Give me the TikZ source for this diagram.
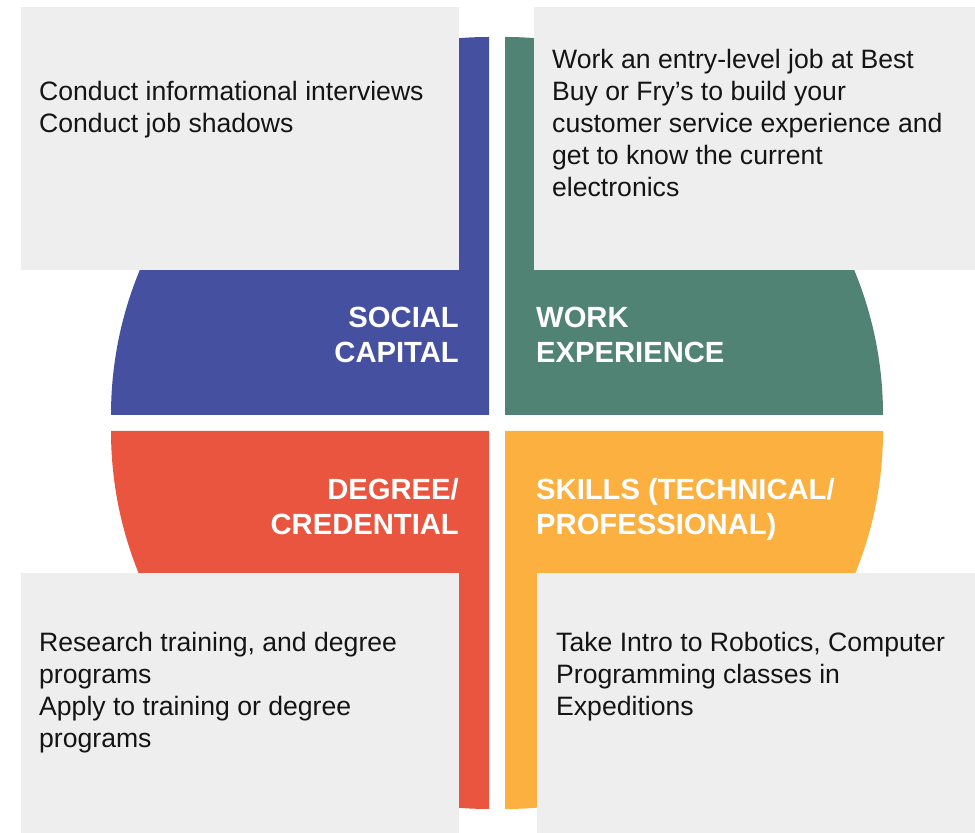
\documentclass[tikz,border=0pt]{standalone}
\usepackage{fontspec}
\setmainfont{Liberation Sans}
\definecolor{qblue}{RGB}{69,80,160}
\definecolor{qgreen}{RGB}{81,131,117}
\definecolor{qred}{RGB}{233,85,62}
\definecolor{qorange}{RGB}{251,176,64}
\definecolor{boxgray}{RGB}{238,238,238}
\definecolor{txt}{RGB}{20,20,20}
\begin{document}
\begin{tikzpicture}[x=1pt,y=1pt,
  graybox/.style={fill=boxgray,draw=none},
  body/.style={inner sep=0pt,text=txt,font=\fontsize{26.6pt}{32pt}\selectfont},
  head/.style={inner sep=0pt,text=white,font=\fontsize{29.2pt}{35pt}\selectfont\bfseries}]
\useasboundingbox (0,0) rectangle (975,833);
% quadrants
\fill[qblue]   (489,418) -- (111,418) arc[start angle=180,end angle=90,radius=378] -- cycle;
\fill[qgreen]  (505,418) -- (505,796) arc[start angle=90,end angle=0,radius=378] -- cycle;
\fill[qred]    (489,402) -- (111,402) arc[start angle=180,end angle=270,radius=378] -- cycle;
\fill[qorange] (505,402) -- (883,402) arc[start angle=0,end angle=-90,radius=378] -- cycle;
% gray boxes
\fill[graybox] (21,563) rectangle (459,826);
\fill[graybox] (534,563) rectangle (975,826);
\fill[graybox] (21,0) rectangle (459,260);
\fill[graybox] (537,0) rectangle (975,260);
% body texts
\node[body,anchor=base west] (tl) at (39,732) {\parbox[t]{415pt}{\raggedright Conduct informational interviews\\Conduct job shadows}};
\node[body,anchor=base west] (tr) at (552,764) {\parbox[t]{415pt}{\raggedright Work an entry-level job at Best\\Buy or Fry’s to build your\\customer service experience and\\get to know the current\\electronics}};
\node[body,anchor=base west] (bl) at (39,181) {\parbox[t]{415pt}{\raggedright Research training, and degree\\programs\\Apply to training or degree\\programs}};
\node[body,anchor=base west] (br) at (556,181) {\parbox[t]{415pt}{\raggedright Take Intro to Robotics, Computer\\Programming classes in\\Expeditions}};
% headings
\node[head,anchor=base east] (social) at (459,505) {\parbox[t]{300pt}{\raggedleft SOCIAL\\CAPITAL}};
\node[head,anchor=base west] (work) at (536,505) {\parbox[t]{330pt}{\raggedright WORK\\EXPERIENCE}};
\node[head,anchor=base east] (degree) at (459,333) {\parbox[t]{300pt}{\raggedleft DEGREE/\\CREDENTIAL}};
\node[head,anchor=base west] (skills) at (536,333) {\parbox[t]{330pt}{\raggedright SKILLS (TECHNICAL/\\PROFESSIONAL)}};
\end{tikzpicture}
\end{document}
